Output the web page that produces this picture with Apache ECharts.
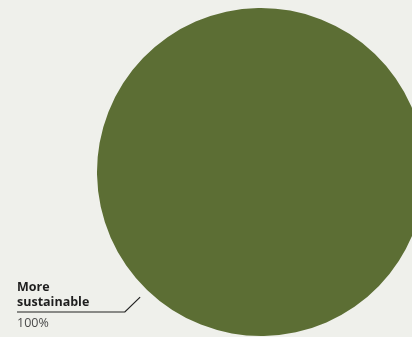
<!DOCTYPE html>
<html>
<head>
<meta charset="utf-8">
<style>
  html, body { margin: 0; padding: 0; background: #eff0eb; }
  #chart { width: 412px; height: 337px; }
</style>
<script src="https://cdn.jsdelivr.net/npm/echarts@6/dist/echarts.min.js"></script>
</head>
<body>
<div id="chart"></div>
<script>
// 数据
const categories = ['More sustainable']
const values = [100]

// 布局
const cx = 261, cy = 172, radius = 164
const midAngle = 226 * Math.PI / 180   // 标签方向（左下）
const lineY = 312                      // 水平线位置
const labelX = 17

const chart = echarts.init(document.getElementById('chart'), null, { renderer: 'canvas' })

function pt(r) {
  return [cx + r * Math.cos(midAngle), cy - r * Math.sin(midAngle)]
}

const option = {
  backgroundColor: '#eff0eb',
  animation: false,
  series: [
    {
      type: 'pie',
      center: [cx, cy],
      radius: radius,
      startAngle: 46,
      clockwise: true,
      avoidLabelOverlap: false,
      silent: true,
      data: categories.map((name, i) => ({ name, value: values[i] })),
      itemStyle: { color: '#5c6e34' },
      label: {
        show: true,
        position: 'outside',
        formatter: p => '{n|' + p.name.split(' ').join('}\n{n|') + '}\n{v|' + Math.round(p.percent) + '%}',
        rich: {
          n: { fontFamily: 'Open Sans', fontSize: 12.5, fontWeight: 'bold', color: '#1e1e1e', lineHeight: 15 },
          v: { fontFamily: 'Open Sans', fontSize: 12.5, color: '#4a4a4a', lineHeight: 15, padding: [12, 0, 0, 0] }
        }
      },
      labelLine: {
        show: true,
        lineStyle: { color: '#222', width: 1.2 }
      },
      labelLayout: function () {
        const a = pt(radius + 10)
        const b = pt(radius + 32)
        return {
          x: labelX,
          y: lineY - 32,
          align: 'left',
          verticalAlign: 'top',
          labelLinePoints: [a, [b[0], lineY], [labelX, lineY]]
        }
      }
    }
  ]
}

chart.setOption(option)
</script>
</body>
</html>
